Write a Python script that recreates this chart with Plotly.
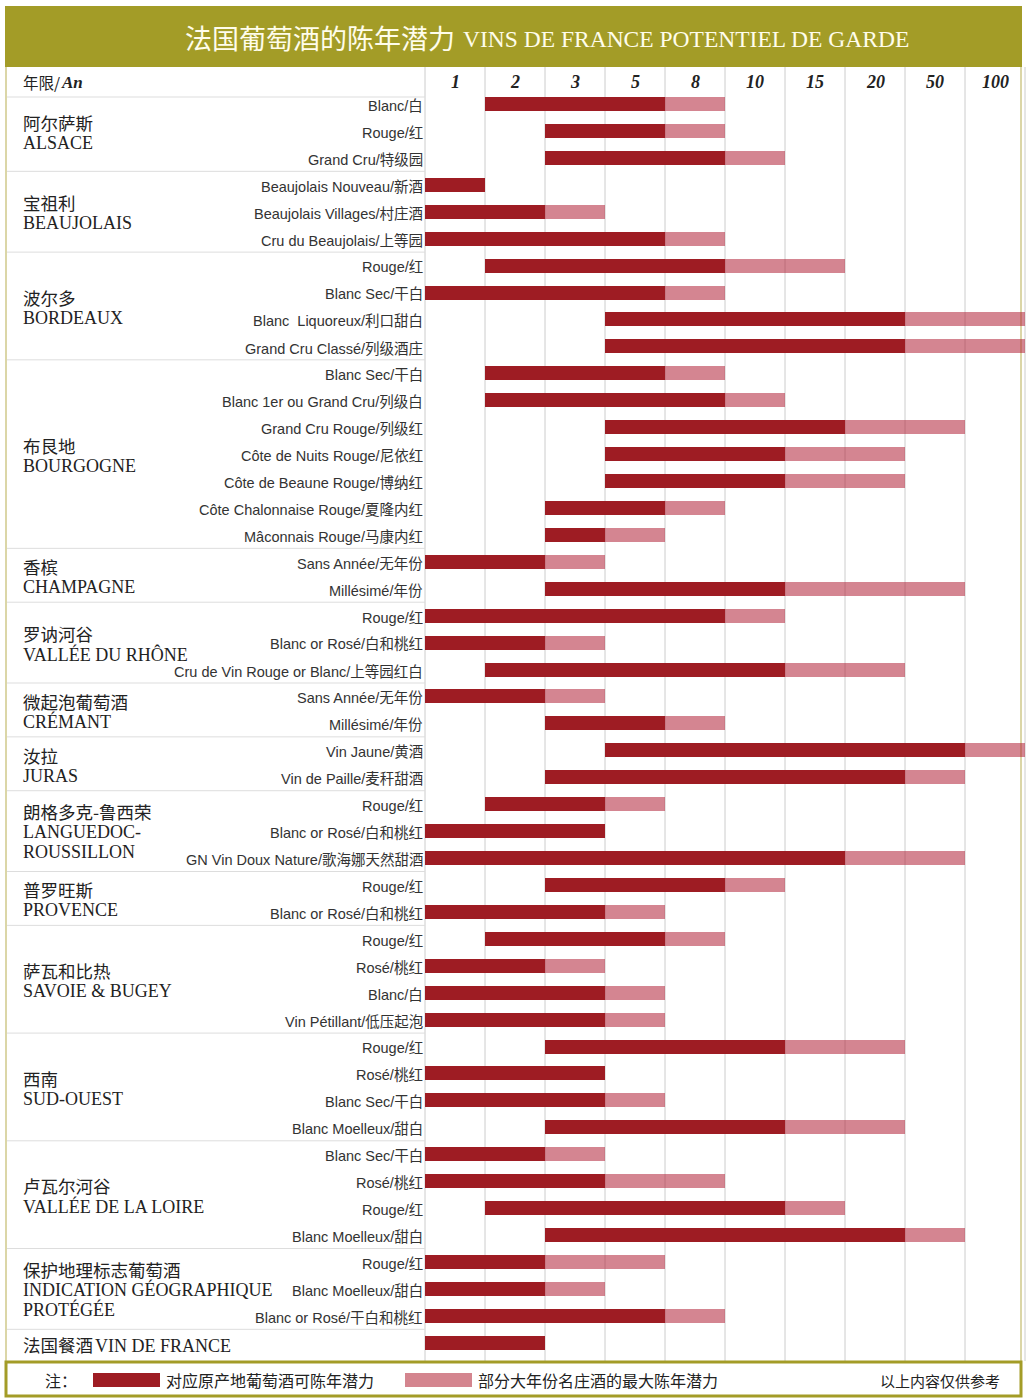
import plotly.graph_objects as go

# ---------------- data ----------------
COLS = ["1", "2", "3", "5", "8", "10", "15", "20", "50", "100"]

GROUP_CN = ["阿尔萨斯", "宝祖利", "波尔多", "布艮地", "香槟", "罗讷河谷", "微起泡葡萄酒", "汝拉",
            "朗格多克-鲁西荣", "普罗旺斯", "萨瓦和比热", "西南", "卢瓦尔河谷", "保护地理标志葡萄酒", "法国餐酒"]
GROUP_FR = [["ALSACE"], ["BEAUJOLAIS"], ["BORDEAUX"], ["BOURGOGNE"], ["CHAMPAGNE"], ["VALLÉE DU RHÔNE"],
            ["CRÉMANT"], ["JURAS"], ["LANGUEDOC-", "ROUSSILLON"], ["PROVENCE"], ["SAVOIE & BUGEY"],
            ["SUD-OUEST"], ["VALLÉE DE LA LOIRE"], ["INDICATION GÉOGRAPHIQUE", "PROTÉGÉE"], ["VIN DE FRANCE"]]
GROUP_SIZE = [3, 3, 4, 7, 2, 3, 2, 2, 3, 2, 4, 4, 4, 3, 1]

WINES = ["Blanc/白", "Rouge/红", "Grand Cru/特级园",
         "Beaujolais Nouveau/新酒", "Beaujolais Villages/村庄酒", "Cru du Beaujolais/上等园",
         "Rouge/红", "Blanc Sec/干白", "Blanc\u00a0 Liquoreux/利口甜白", "Grand Cru Classé/列级酒庄",
         "Blanc Sec/干白", "Blanc 1er ou Grand Cru/列级白", "Grand Cru Rouge/列级红", "Côte de Nuits Rouge/尼依红",
         "Côte de Beaune Rouge/博纳红", "Côte Chalonnaise Rouge/夏隆内红", "Mâconnais Rouge/马康内红",
         "Sans Année/无年份", "Millésimé/年份",
         "Rouge/红", "Blanc or Rosé/白和桃红", "Cru de Vin Rouge or Blanc/上等园红白",
         "Sans Année/无年份", "Millésimé/年份",
         "Vin Jaune/黄酒", "Vin de Paille/麦秆甜酒",
         "Rouge/红", "Blanc or Rosé/白和桃红", "GN Vin Doux Nature/歌海娜天然甜酒",
         "Rouge/红", "Blanc or Rosé/白和桃红",
         "Rouge/红", "Rosé/桃红", "Blanc/白", "Vin Pétillant/低压起泡",
         "Rouge/红", "Rosé/桃红", "Blanc Sec/干白", "Blanc Moelleux/甜白",
         "Blanc Sec/干白", "Rosé/桃红", "Rouge/红", "Blanc Moelleux/甜白",
         "Rouge/红", "Blanc Moelleux/甜白", "Blanc or Rosé/干白和桃红",
         ""]

START = ["2", "3", "3", "1", "1", "1", "2", "1", "5", "5",
         "2", "2", "5", "5", "5", "3", "3", "1", "3", "1", "1", "2", "1", "3",
         "5", "3", "2", "1", "1", "3", "1", "2", "1", "1", "1", "3", "1", "1", "3",
         "1", "1", "2", "3", "1", "1", "1", "1"]
DARK_END = ["5", "5", "8", "1", "2", "5", "8", "5", "20", "20",
            "5", "8", "15", "10", "10", "5", "3", "2", "10", "8", "2", "10", "2", "5",
            "50", "20", "3", "3", "15", "8", "3", "5", "2", "3", "3", "10", "3", "3", "10",
            "2", "3", "10", "20", "2", "2", "5", "2"]
LIGHT_END = ["8", "8", "10", None, "3", "8", "15", "8", "100", "100",
             "8", "10", "50", "20", "20", "8", "5", "3", "50", "10", "3", "20", "3", "8",
             "100", "50", "5", None, "50", "10", "5", "8", "3", "5", "5", "20", None, "5", "20",
             "3", "8", "15", "50", "5", "3", "8", None]

TITLE_CN = "法国葡萄酒的陈年潜力"
TITLE_FR = "VINS DE FRANCE POTENTIEL DE GARDE"
LEGEND_DARK = "对应原产地葡萄酒可陈年潜力"
LEGEND_LIGHT = "部分大年份名庄酒的最大陈年潜力"
NOTE = "以上内容仅供参考"

# ---------------- styles / geometry ----------------
W, H = 1027, 1400
X0, CW = 425.0, 60.0          # pixel of column 0 and column width
Y0, RH = 104.0, 26.93         # pixel of row 0 centre and row height
OLIVE = "#A39C27"
DARK = "#9E1C23"
LIGHT = "rgba(177,33,55,0.55)"
GRID = "#CCCCCC"
SEP = "#DDDDDD"
CJK = "Noto Sans CJK SC"
SERIF = "Liberation Serif, DejaVu Serif, serif"
SANS = "Liberation Sans, Arial, Noto Sans CJK SC, sans-serif"


def px(x):
    return x / W


def py(y):
    return 1 - y / H


def prow(y):
    return (y - Y0) / RH


rows = list(range(len(WINES)))
idx = {c: i for i, c in enumerate(COLS)}

dark_base = [idx[s] for s in START]
dark_len = [idx[d] + 1 - idx[s] for s, d in zip(START, DARK_END)]
light_rows = [r for r in rows if LIGHT_END[r] is not None]
light_base = [idx[DARK_END[r]] + 1 for r in light_rows]
light_len = [idx[LIGHT_END[r]] + 1 - (idx[DARK_END[r]] + 1) for r in light_rows]

fig = go.Figure()
fig.add_trace(go.Bar(y=rows, x=dark_len, base=dark_base, orientation="h", width=0.52,
                     marker=dict(color=DARK, line=dict(width=0)), showlegend=False, hoverinfo="skip"))
fig.add_trace(go.Bar(y=light_rows, x=light_len, base=light_base, orientation="h", width=0.52,
                     marker=dict(color=LIGHT, line=dict(width=0)), showlegend=False, hoverinfo="skip"))

shapes = []
annots = []

# header band
shapes.append(dict(type="rect", xref="paper", yref="paper", x0=px(5), x1=px(1022), y0=py(67), y1=py(6),
                   fillcolor=OLIVE, line=dict(width=0), layer="below"))
# vertical grid lines
for i in range(len(COLS) + 1):
    shapes.append(dict(type="line", xref="x", yref="paper", x0=i, x1=i, y0=py(67), y1=py(1361),
                       line=dict(color=GRID, width=1), layer="below"))
# frame side lines
for xx in (6, 1021):
    shapes.append(dict(type="line", xref="paper", yref="paper", x0=px(xx), x1=px(xx), y0=py(67), y1=py(1362),
                       line=dict(color="#CFC98A", width=1.5), layer="below"))
# header bottom line
shapes.append(dict(type="line", xref="paper", yref="paper", x0=px(7), x1=px(425), y0=py(97), y1=py(97),
                   line=dict(color=SEP, width=1), layer="below"))

# group labels and separators
start_row = 0
for g, (cn, fr, n) in enumerate(zip(GROUP_CN, GROUP_FR, GROUP_SIZE)):
    centre = Y0 + RH * (start_row + (n - 1) / 2)
    if n == 1:
        annots.append(dict(text=cn, x=px(21), y=prow(centre + 2), xref="paper", yref="y", xanchor="left",
                           yanchor="middle", showarrow=False, font=dict(family=CJK, size=17.5, color="#222")))
        annots.append(dict(text=fr[0], x=px(93), y=prow(centre + 3), xref="paper", yref="y", xanchor="left",
                           yanchor="middle", showarrow=False, font=dict(family=SERIF, size=18, color="#222")))
    else:
        lines = 1 + len(fr)
        top = centre - 19.5 * (lines - 1) / 2 + (1 if lines == 2 else 0)
        annots.append(dict(text=cn, x=px(21), y=prow(top), xref="paper", yref="y", xanchor="left",
                           yanchor="middle", showarrow=False, font=dict(family=CJK, size=17.5, color="#222")))
        for k, line in enumerate(fr):
            annots.append(dict(text=line, x=px(21), y=prow(top + 19.5 * (k + 1) + 1), xref="paper", yref="y",
                               xanchor="left", yanchor="middle", showarrow=False,
                               font=dict(family=SERIF, size=18, color="#222")))
    start_row += n
    if g < len(GROUP_CN) - 1:
        shapes.append(dict(type="line", xref="paper", yref="y", x0=px(7), x1=px(425),
                           y0=start_row - 0.5, y1=start_row - 0.5, line=dict(color=SEP, width=1), layer="below"))

# wine labels
for r, w in enumerate(WINES):
    if w:
        annots.append(dict(text=w, x=px(425), y=r + 0.07, xref="paper", yref="y", xanchor="right",
                           yanchor="middle", showarrow=False, font=dict(family=SANS, size=14.5, color="#333")))

# title
annots.append(dict(text=TITLE_CN, x=px(457), y=py(38), xref="paper", yref="paper", xanchor="right",
                   yanchor="middle", showarrow=False, font=dict(family=CJK, size=27, color="#FFFDEB")))
annots.append(dict(text=TITLE_FR, x=px(461), y=py(39), xref="paper", yref="paper", xanchor="left",
                   yanchor="middle", showarrow=False, font=dict(family=SERIF, size=23.5, color="#FFFDEB")))

# header row
annots.append(dict(text="年限/", x=px(21), y=py(82), xref="paper", yref="paper", xanchor="left",
                   yanchor="middle", showarrow=False, font=dict(family=CJK, size=15.5, color="#222")))
annots.append(dict(text="<b><i>An</i></b>", x=px(59), y=py(82), xref="paper", yref="paper", xanchor="left",
                   yanchor="middle", showarrow=False, font=dict(family=SERIF, size=17, color="#222")))
for i, c in enumerate(COLS):
    annots.append(dict(text=f"<b><i>{c}</i></b>", x=i + 0.5, y=py(82), xref="x", yref="paper",
                       xanchor="center", yanchor="middle", showarrow=False,
                       font=dict(family=SERIF, size=18, color="#222")))

# legend box
shapes.append(dict(type="rect", xref="paper", yref="paper", x0=px(6), x1=px(1021), y0=py(1396), y1=py(1362),
                   fillcolor="white", line=dict(color=OLIVE, width=3), layer="below"))
shapes.append(dict(type="rect", xref="paper", yref="paper", x0=px(93), x1=px(160), y0=py(1387), y1=py(1373),
                   fillcolor=DARK, line=dict(width=0)))
shapes.append(dict(type="rect", xref="paper", yref="paper", x0=px(405), x1=px(472), y0=py(1387), y1=py(1373),
                   fillcolor="#D4858F", line=dict(width=0)))
for text, xx in (("注：", 43), (LEGEND_DARK, 164), (LEGEND_LIGHT, 476)):
    annots.append(dict(text=text, x=px(xx), y=py(1380), xref="paper", yref="paper", xanchor="left",
                       yanchor="middle", showarrow=False, font=dict(family=CJK, size=16, color="#222")))
annots.append(dict(text=NOTE, x=px(1002), y=py(1380), xref="paper", yref="paper", xanchor="right",
                   yanchor="middle", showarrow=False, font=dict(family=CJK, size=15, color="#222")))

fig.update_layout(
    width=W, height=H, margin=dict(l=0, r=0, t=0, b=0),
    paper_bgcolor="white", plot_bgcolor="rgba(0,0,0,0)",
    xaxis=dict(range=[-X0 / CW, (W - X0) / CW], visible=False, fixedrange=True),
    yaxis=dict(range=[(H - Y0) / RH, -Y0 / RH], visible=False, fixedrange=True),
    bargap=0, barmode="overlay",
    shapes=shapes, annotations=annots,
)

fig.write_html("out.html", config={"displayModeBar": False},
               post_script="document.body.style.margin='0';")
